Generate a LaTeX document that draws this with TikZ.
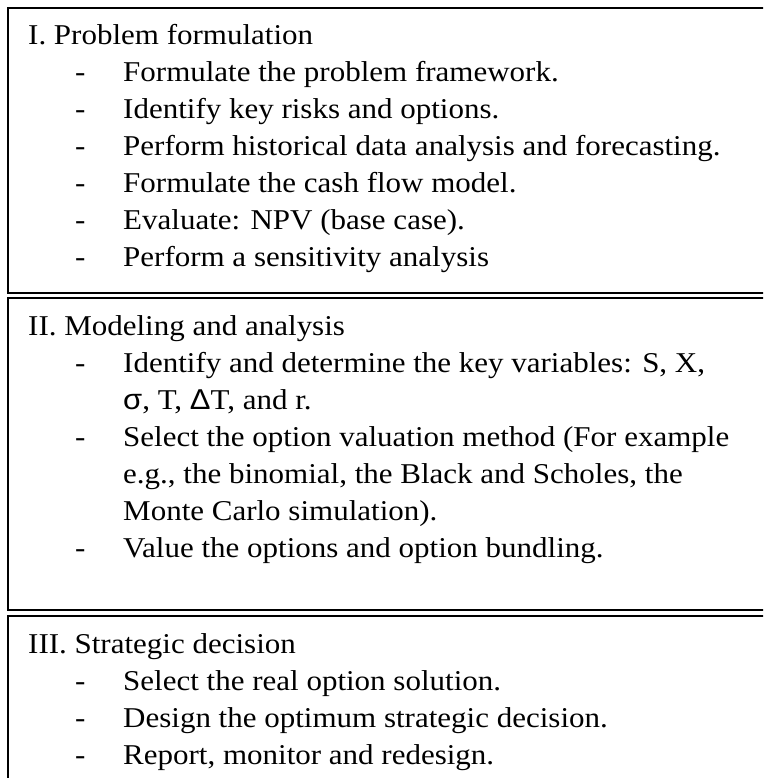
\documentclass[tikz,border=0pt]{standalone}
\usepackage{fontspec}
\setmainfont[FakeStretch=1.08]{Liberation Serif}
\newfontfamily\greekfont[FakeStretch=1.08]{Liberation Sans}

\tikzset{
  panel/.style={draw=black, line width=2pt, anchor=north west, inner sep=0pt},
  txt/.style={anchor=base west, inner sep=0pt, font=\fontsize{28.7}{34}\selectfont},
}

\begin{document}
\begin{tikzpicture}[x=1pt, y=-1pt]
  \useasboundingbox (0,0) rectangle (763,778);
  \clip (0,0) rectangle (763,778);

  % three stacked panels, running past the right and bottom edges
  \node[panel, minimum width=800pt, minimum height=284.7pt] (p1) at (7,7) {};
  \node[panel, minimum width=800pt, minimum height=312.6pt] (p2) at (7,296.7) {};
  \node[panel, minimum width=800pt, minimum height=200pt]   (p3) at (7,614.5) {};

  % panel I
  \node[txt] (h1) at (28,45) {I. Problem formulation};
  \node[txt] (d11) at (75,82)  {-}; \node[txt] (a11) at (123,82)  {Formulate the problem framework.};
  \node[txt] (d12) at (75,119) {-}; \node[txt] (a12) at (123,119) {Identify key risks and options.};
  \node[txt] (d13) at (75,156) {-}; \node[txt] (a13) at (123,156) {Perform historical data analysis and forecasting.};
  \node[txt] (d14) at (75,192) {-}; \node[txt] (a14) at (123,192) {Formulate the cash flow model.};
  \node[txt] (d15) at (75,229) {-}; \node[txt] (a15) at (123,229) {Evaluate: NPV (base case).};
  \node[txt] (d16) at (75,266) {-}; \node[txt] (a16) at (123,266) {Perform a sensitivity analysis};

  % panel II
  \node[txt] (h2) at (28,335.7) {II. Modeling and analysis};
  \node[txt] (d21) at (75,372.7) {-}; \node[txt] (a21) at (123,372.7) {Identify and determine the key variables: S, X,};
  \node[txt] (a21b) at (123,409.5) {{\greekfont σ}, T, {\greekfont Δ}T, and r.};
  \node[txt] (d22) at (75,446.3) {-}; \node[txt] (a22) at (123,446.3) {Select the option valuation method (For example};
  \node[txt] (a22b) at (123,483) {e.g., the binomial, the Black and Scholes, the};
  \node[txt] (a22c) at (123,520) {Monte Carlo simulation).};
  \node[txt] (d23) at (75,557) {-}; \node[txt] (a23) at (123,557) {Value the options and option bundling.};

  % panel III
  \node[txt] (h3) at (28,653) {III. Strategic decision};
  \node[txt] (d31) at (75,690.5) {-}; \node[txt] (a31) at (123,690.5) {Select the real option solution.};
  \node[txt] (d32) at (75,727.5) {-}; \node[txt] (a32) at (123,727.5) {Design the optimum strategic decision.};
  \node[txt] (d33) at (75,764.5) {-}; \node[txt] (a33) at (123,764.5) {Report, monitor and redesign.};
\end{tikzpicture}
\end{document}
